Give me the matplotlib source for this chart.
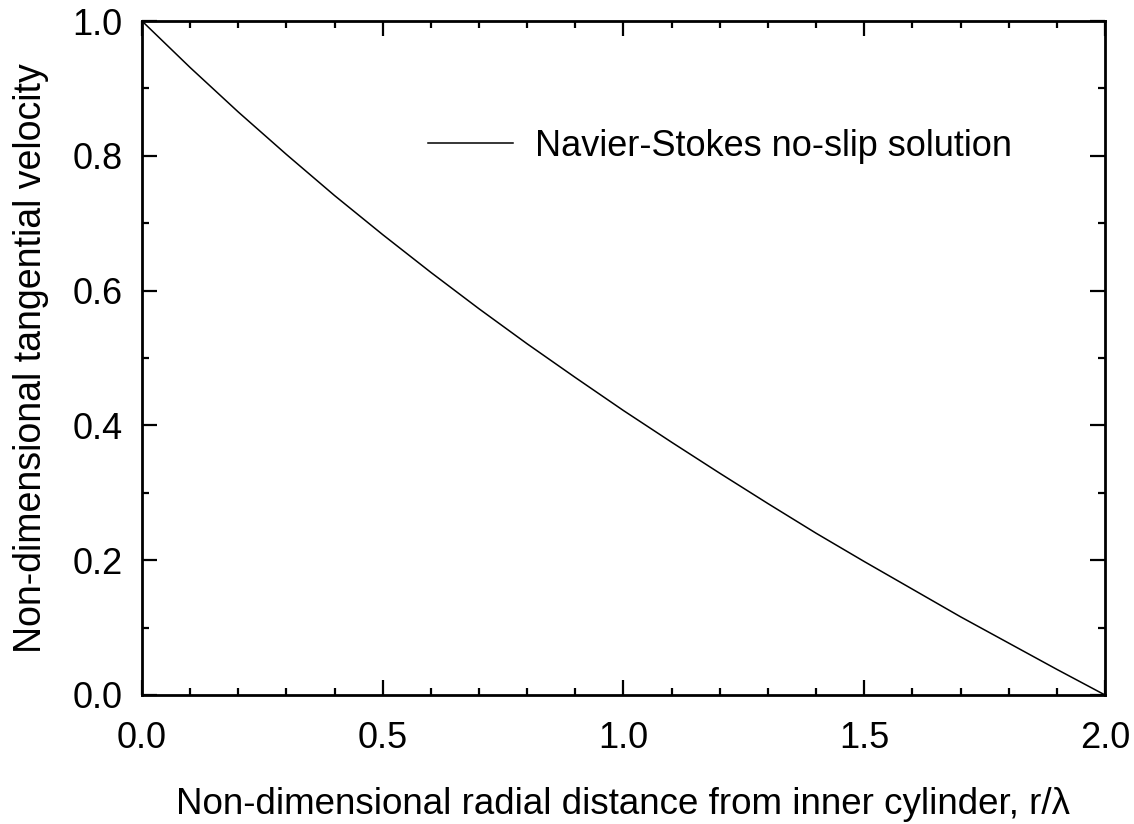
import matplotlib.pyplot as plt
from matplotlib.ticker import MultipleLocator

plt.rcParams["font.family"] = ["Liberation Sans", "DejaVu Sans"]

# values
r = [0.0, 0.1, 0.2, 0.3, 0.4, 0.5, 0.6, 0.7, 0.8, 0.9, 1.0,
     1.1, 1.2, 1.3, 1.4, 1.5, 1.6, 1.7, 1.8, 1.9, 2.0]
v = [1.000, 0.931, 0.865, 0.802, 0.741, 0.683, 0.627, 0.573, 0.521, 0.471, 0.422,
     0.375, 0.329, 0.284, 0.240, 0.198, 0.157, 0.116, 0.077, 0.038, 0.000]
series_label = "Navier-Stokes no-slip solution"


def main():
    fig = plt.figure(figsize=(11.34, 8.24), dpi=100)
    ax = fig.add_axes([0.1252, 0.1566, 0.8492, 0.8179])

    ax.plot(r, v, color="black", linewidth=1.1, label=series_label)

    ax.set_xlim(0, 2.0)
    ax.set_ylim(0, 1.0)
    ax.xaxis.set_major_locator(MultipleLocator(0.5))
    ax.xaxis.set_minor_locator(MultipleLocator(0.1))
    ax.yaxis.set_major_locator(MultipleLocator(0.2))
    ax.yaxis.set_minor_locator(MultipleLocator(0.1))
    ax.xaxis.set_major_formatter("{x:.1f}")
    ax.yaxis.set_major_formatter("{x:.1f}")

    ax.tick_params(which="both", direction="in", top=True, right=True, width=1.6,
                   labelsize=26)
    ax.tick_params(which="major", length=11)
    ax.tick_params(which="minor", length=5)
    ax.tick_params(axis="x", which="major", pad=19)
    ax.tick_params(axis="y", which="major", pad=14)
    for s in ax.spines.values():
        s.set_linewidth(2.0)

    ax.set_xlabel("Non-dimensional radial distance from inner cylinder, r/\u03bb",
                  fontsize=26.5, labelpad=22)
    ax.set_ylabel("Non-dimensional tangential velocity", fontsize=27, labelpad=17)

    ax.legend(loc="center left", bbox_to_anchor=(0.297, 0.8145), frameon=False,
              fontsize=26, handlelength=2.35, handletextpad=0.6,
              borderpad=0, borderaxespad=0)

    fig.savefig("out.png", dpi=100)


if __name__ == "__main__":
    main()
